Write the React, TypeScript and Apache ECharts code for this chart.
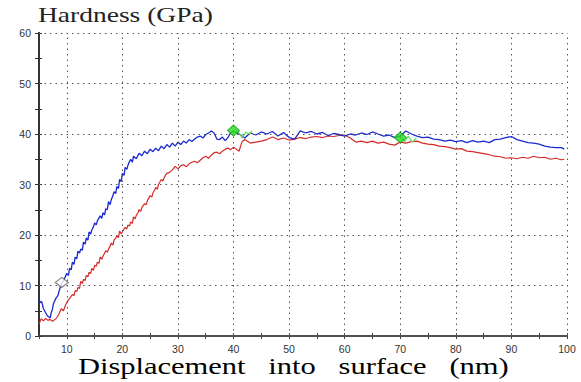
import React, { useEffect, useRef } from "react";
import * as echarts from "echarts";

const xTicks = [10, 20, 30, 40, 50, 60, 70, 80, 90, 100];
const yTicks = [10, 20, 30, 40, 50, 60];

const blueSeries: [number, number][] = [
  [5.0, 7.4], [5.2, 6.6], [5.5, 6.8], [5.8, 5.4], [6.1, 4.8], [6.4, 4.2], [6.7, 3.8], [7.0, 3.6],
  [7.2, 4.6], [7.4, 5.2], [7.6, 6.4], [8.0, 7.4], [8.4, 8.0], [8.8, 9.6], [9.2, 10.6], [9.6, 11.4],
  [10.0, 12.4], [10.3, 12.0], [10.5, 13.4], [10.8, 13.1], [11.0, 14.6], [11.3, 14.2], [11.5, 15.6],
  [11.8, 15.3], [12.0, 16.8], [12.3, 16.4], [12.5, 17.2], [12.8, 17.0], [13.0, 18.6], [13.3, 18.2],
  [13.5, 19.4], [13.8, 19.0], [14.0, 20.6], [14.3, 20.2], [14.5, 21.0], [14.8, 21.6], [15.0, 22.4],
  [15.3, 22.0], [15.5, 22.8], [15.8, 23.4], [16.0, 23.8], [16.3, 23.3], [16.5, 24.4], [16.8, 24.0],
  [17.0, 25.2], [17.3, 25.0], [17.5, 26.6], [17.8, 26.0], [18.0, 27.0], [18.3, 27.8], [18.5, 28.6],
  [18.8, 28.2], [19.0, 29.6], [19.3, 29.2], [19.5, 31.0], [19.8, 30.6], [20.0, 32.2], [20.3, 31.8],
  [20.5, 33.4], [20.8, 33.0], [21.0, 33.8], [21.3, 34.6], [21.5, 35.0], [21.8, 34.4], [22.0, 35.6],
  [22.5, 35.1], [23.0, 36.2], [23.5, 35.7], [24.0, 36.6], [24.5, 36.1], [25.0, 37.0], [25.5, 36.5],
  [26.0, 37.2], [26.5, 36.7], [27.0, 37.6], [27.5, 37.1], [28.0, 37.9], [28.5, 37.4], [29.0, 38.2],
  [29.5, 37.6], [30.0, 38.4], [30.5, 37.9], [31.0, 38.6], [31.5, 38.2], [32.0, 38.9], [32.5, 38.5],
  [33.0, 39.0], [33.5, 39.4], [34.0, 39.6], [34.5, 39.2], [35.0, 39.9], [35.5, 40.2], [36.0, 40.6],
  [36.5, 40.2], [37.0, 39.0], [37.5, 38.9], [38.0, 39.4], [38.5, 38.7], [39.0, 39.3], [39.5, 40.3],
  [40.0, 40.6], [41.0, 40.0], [42.0, 39.2], [43.0, 40.2], [44.0, 39.8], [45.0, 40.4], [46.0, 40.0],
  [47.0, 40.5], [48.0, 39.6], [49.0, 40.3], [50.0, 39.3], [51.0, 39.0], [52.0, 40.6], [53.0, 40.2],
  [54.0, 40.5], [55.0, 40.0], [56.0, 40.3], [57.0, 39.7], [58.0, 40.1], [59.0, 39.9], [60.0, 39.6],
  [61.0, 40.0], [62.0, 39.8], [63.0, 40.2], [64.0, 39.9], [65.0, 40.4], [66.0, 40.0], [67.0, 39.6],
  [68.0, 39.8], [69.0, 39.3], [70.0, 39.6], [71.0, 40.6], [72.0, 40.0], [73.0, 39.6], [74.0, 39.3],
  [75.0, 39.4], [76.0, 39.0], [77.0, 38.9], [78.0, 38.6], [79.0, 38.8], [80.0, 38.5], [81.0, 38.7],
  [82.0, 38.3], [83.0, 38.7], [84.0, 38.4], [85.0, 38.6], [86.0, 38.3], [87.0, 38.9], [88.0, 39.0],
  [89.0, 39.3], [90.0, 39.5], [91.0, 38.9], [92.0, 38.6], [93.0, 38.3], [94.0, 38.2], [95.0, 38.0],
  [96.0, 37.6], [97.0, 37.4], [98.0, 37.3], [99.0, 37.3], [99.5, 37.0],
];

const redSeries: [number, number][] = [
  [5.0, 2.4], [5.4, 3.4], [5.8, 3.0], [6.2, 3.5], [6.6, 3.1], [7.0, 3.3], [7.4, 2.9], [7.8, 3.2],
  [8.2, 3.6], [8.6, 4.4], [9.0, 5.4], [9.4, 5.0], [9.8, 6.2], [10.2, 7.0], [10.6, 7.6], [11.0, 8.2],
  [11.3, 8.0], [11.5, 9.0], [11.8, 8.8], [12.0, 9.6], [12.3, 9.4], [12.5, 10.8], [12.8, 10.4],
  [13.0, 11.2], [13.3, 11.0], [13.5, 12.0], [13.8, 11.7], [14.0, 12.6], [14.3, 12.4], [14.5, 13.4],
  [14.8, 13.0], [15.0, 14.0], [15.3, 13.8], [15.5, 14.6], [15.8, 14.4], [16.0, 15.6], [16.3, 15.2],
  [16.5, 15.8], [16.8, 16.4], [17.0, 16.9], [17.3, 16.6], [17.5, 17.2], [17.8, 17.8], [18.0, 18.4],
  [18.3, 18.0], [18.5, 19.0], [18.8, 19.4], [19.0, 19.8], [19.3, 19.5], [19.5, 20.8], [19.8, 20.2],
  [20.0, 20.6], [20.3, 21.2], [20.5, 21.5], [20.8, 21.2], [21.0, 22.0], [21.3, 21.8], [21.5, 22.6],
  [21.8, 22.3], [22.0, 23.6], [22.3, 23.2], [22.5, 23.9], [22.8, 24.4], [23.0, 25.0], [23.3, 24.7],
  [23.5, 25.4], [23.8, 25.9], [24.0, 26.2], [24.3, 26.0], [24.5, 26.8], [24.8, 27.4], [25.0, 27.8],
  [25.3, 27.5], [25.5, 28.3], [25.8, 28.9], [26.0, 29.4], [26.3, 29.1], [26.5, 30.0], [26.8, 30.6],
  [27.0, 31.0], [27.3, 30.7], [27.5, 31.3], [27.8, 31.9], [28.0, 32.2], [28.5, 32.4], [29.0, 32.9],
  [29.5, 33.6], [30.0, 33.1], [30.5, 33.7], [31.0, 33.9], [31.5, 33.5], [32.0, 34.1], [32.5, 34.4],
  [33.0, 34.6], [33.5, 34.3], [34.0, 34.8], [34.5, 35.3], [35.0, 35.6], [35.5, 35.2], [36.0, 35.8],
  [36.5, 36.3], [37.0, 36.4], [37.5, 36.1], [38.0, 36.6], [38.5, 37.0], [39.0, 37.2], [39.5, 36.9],
  [40.0, 37.4], [41.0, 36.6], [41.5, 38.4], [42.0, 38.9], [43.0, 38.2], [44.0, 38.4], [45.0, 38.6],
  [46.0, 38.9], [47.0, 39.4], [48.0, 38.9], [49.0, 39.2], [50.0, 38.8], [51.0, 39.0], [52.0, 39.3],
  [53.0, 39.1], [54.0, 39.4], [55.0, 39.5], [56.0, 39.3], [57.0, 39.6], [58.0, 39.5], [59.0, 39.7],
  [60.0, 39.8], [61.0, 39.2], [62.0, 38.4], [63.0, 38.6], [64.0, 38.3], [65.0, 38.6], [66.0, 38.2],
  [67.0, 38.4], [68.0, 38.0], [69.0, 37.8], [70.0, 38.4], [71.0, 38.2], [72.0, 38.5], [73.0, 38.6],
  [74.0, 38.2], [75.0, 38.0], [76.0, 37.9], [77.0, 37.6], [78.0, 37.5], [79.0, 37.3], [80.0, 37.0],
  [81.0, 37.1], [82.0, 36.6], [83.0, 36.5], [84.0, 36.3], [85.0, 36.1], [86.0, 35.9], [87.0, 35.6],
  [88.0, 35.5], [89.0, 35.2], [90.0, 35.3], [91.0, 35.1], [92.0, 35.4], [93.0, 35.2], [94.0, 35.6],
  [95.0, 35.3], [96.0, 35.4], [97.0, 35.0], [98.0, 35.2], [99.0, 34.9], [99.5, 35.0],
];

const greenSegA: [number, number][] = [[40.0, 40.7], [41.0, 40.2], [41.6, 39.2], [42.2, 40.4], [42.8, 39.9], [43.3, 40.6]];
const greenSegB: [number, number][] = [[70.0, 39.3], [70.8, 38.5], [71.4, 39.6], [72.2, 38.4], [72.9, 39.2]];
const greenMarkers: [number, number][] = [[40.0, 40.7], [70.0, 39.3]];
const whiteMarker: [number, number][] = [[9.1, 10.6]];

const X_MIN = 5;
const X_MAX = 100;
const Y_MIN = 0;
const Y_MAX = 60;

export default function App() {
  const ref = useRef<HTMLDivElement>(null);
  useEffect(() => {
    if (!ref.current) return;
    const chart = echarts.init(ref.current, undefined, { renderer: "svg" });
    const labelStyle = { fontFamily: "Liberation Sans", fontSize: 10.5, color: "#333" };
    const baseX = {
      type: "value" as const,
      min: X_MIN,
      max: X_MAX,
      interval: 5,
      splitLine: { show: false },
      axisLine: { show: true, onZero: false, lineStyle: { color: "#444", width: 1.5 } },
    };
    const baseY = {
      type: "value" as const,
      min: Y_MIN,
      max: Y_MAX,
      interval: 5,
      splitLine: { show: false },
      axisLine: { show: true, onZero: false, lineStyle: { color: "#333", width: 2 } },
    };
    chart.setOption({
      animation: false,
      backgroundColor: "#fff",
      grid: { left: 39, right: 14, top: 33, bottom: 46 },
      xAxis: [
        {
          ...baseX,
          axisTick: { show: true, inside: false, length: 3, lineStyle: { color: "#444" } },
          axisLabel: {
            ...labelStyle,
            margin: 7,
            formatter: (v: number) => (v % 10 === 0 ? String(v) : ""),
          },
        },
        {
          ...baseX,
          position: "bottom",
          axisTick: { show: true, inside: true, length: 3, lineStyle: { color: "#444" } },
          axisLabel: { show: false },
        },
      ],
      yAxis: [
        {
          ...baseY,
          axisTick: { show: true, inside: false, length: 4, lineStyle: { color: "#333" } },
          axisLabel: {
            ...labelStyle,
            margin: 8,
            formatter: (v: number) => (v % 10 === 0 ? String(v) : ""),
          },
        },
        {
          ...baseY,
          position: "left",
          axisTick: { show: true, inside: true, length: 3, lineStyle: { color: "#333" } },
          axisLabel: { show: false },
        },
      ],
      graphic: [
        {
          type: "text",
          x: 38,
          y: 3,
          scaleX: 1.25,
          style: {
            text: "Hardness (GPa)",
            fontFamily: "Liberation Serif",
            fontSize: 22,
            fill: "#222",
          },
        },
        {
          type: "text",
          x: 78,
          y: 354,
          scaleX: 1.27,
          style: {
            text: "Displacement\u00a0\u00a0\u00a0into\u00a0\u00a0\u00a0surface\u00a0\u00a0\u00a0(nm)",
            fontFamily: "Liberation Serif",
            fontSize: 24,
            fill: "#000",
          },
        },
      ],
      series: [
        {
          type: "line",
          data: [[X_MIN, Y_MIN]],
          symbol: "none",
          lineStyle: { opacity: 0 },
          silent: true,
          markLine: {
            silent: true,
            symbol: ["none", "none"],
            label: { show: false },
            lineStyle: { color: "#555", width: 1, type: [1.5, 4] },
            data: [
              ...xTicks.map((v) => ({ xAxis: v })),
              ...yTicks.map((v) => ({ yAxis: v })),
            ],
          },
        },
        {
          type: "line",
          name: "red",
          data: redSeries,
          symbol: "none",
          lineStyle: { color: "#d42a2a", width: 1.2 },
        },
        {
          type: "line",
          name: "blue",
          data: blueSeries,
          symbol: "none",
          lineStyle: { color: "#1a2ad0", width: 1.3 },
        },
        {
          type: "line",
          data: greenSegA,
          symbol: "none",
          lineStyle: { color: "#66dd66", width: 1.3 },
        },
        {
          type: "line",
          data: greenSegB,
          symbol: "none",
          lineStyle: { color: "#66dd66", width: 1.3 },
        },
        {
          type: "scatter",
          data: greenMarkers,
          symbol: "diamond",
          symbolSize: [12, 11],
          z: 5,
          itemStyle: { color: "#22dd22", borderColor: "#119911", borderWidth: 1 },
        },
        {
          type: "scatter",
          data: whiteMarker,
          symbol: "diamond",
          symbolSize: [13, 10],
          z: 5,
          itemStyle: { color: "#ffffff", borderColor: "#666", borderWidth: 1.2 },
        },
      ],
    });
    return () => chart.dispose();
  }, []);
  return <div ref={ref} style={{ width: 581, height: 382, position: "absolute", left: 0, top: 0 }} />;
}
